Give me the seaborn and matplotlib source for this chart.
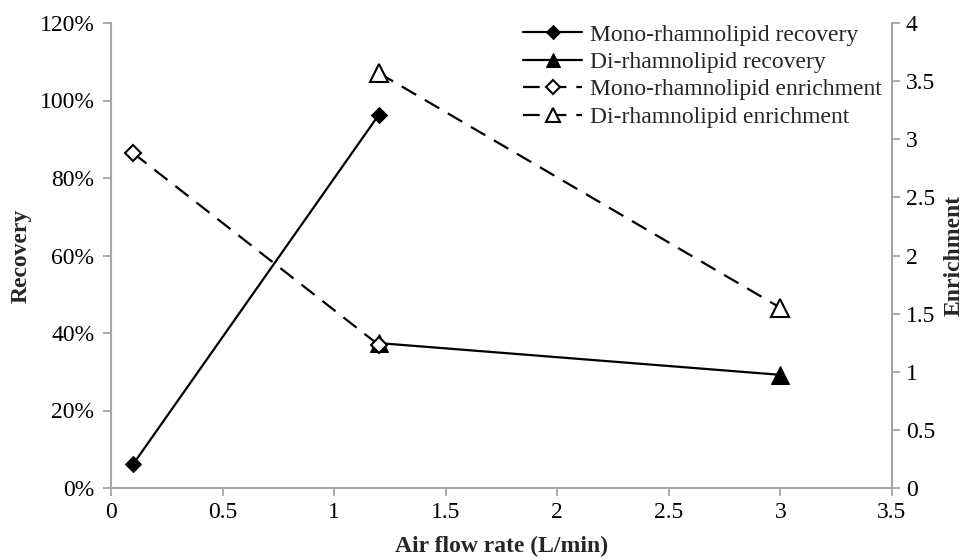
import matplotlib
matplotlib.use("Agg")
import matplotlib.pyplot as plt
import seaborn as sns
import pandas as pd
from matplotlib.ticker import FuncFormatter, MultipleLocator

# ---- data ----
mono_rec_x = [0.1, 1.2]
mono_rec_y = [6.2, 96.3]          # %
di_rec_x = [1.2, 3.0]
di_rec_y = [37.4, 29.2]           # %
mono_enr_x = [0.1, 1.2]
mono_enr_y = [2.88, 1.23]
di_enr_x = [1.2, 3.0]
di_enr_y = [3.57, 1.55]

labels = ["Mono-rhamnolipid recovery", "Di-rhamnolipid recovery",
          "Mono-rhamnolipid enrichment", "Di-rhamnolipid enrichment"]

sns.set_style("white")
plt.rcParams["font.family"] = ["Liberation Serif", "DejaVu Serif"]

FS = 17
GRAY = "#A6A6A6"

fig = plt.figure(figsize=(9.65, 5.6), dpi=100)
ax = fig.add_axes([111 / 965, 1 - 488 / 560, (892 - 111) / 965, (488 - 23) / 560])
ax2 = ax.twinx()

dash = (0, (7.5, 4.5))
sns.lineplot(x=mono_rec_x, y=mono_rec_y, ax=ax, color="black", lw=1.6,
             marker="D", markersize=8.6, markeredgecolor="black", label=labels[0], legend=False)
sns.lineplot(x=di_rec_x, y=di_rec_y, ax=ax, color="black", lw=1.6,
             marker="^", markersize=12.5, markeredgecolor="black", label=labels[1], legend=False)
sns.lineplot(x=mono_enr_x, y=mono_enr_y, ax=ax2, color="black", lw=1.6, linestyle=dash,
             marker="D", markersize=8.6, markerfacecolor="white", markeredgecolor="black",
             markeredgewidth=1.5, label=labels[2], legend=False)
sns.lineplot(x=di_enr_x, y=di_enr_y, ax=ax2, color="black", lw=1.6, linestyle=dash,
             marker="^", markersize=12.5, markerfacecolor="white", markeredgecolor="black",
             markeredgewidth=1.5, label=labels[3], legend=False)

ax.set_xlim(0, 3.5)
ax.set_ylim(0, 120)
ax2.set_ylim(0, 4)
ax.xaxis.set_major_locator(MultipleLocator(0.5))
ax.yaxis.set_major_locator(MultipleLocator(20))
ax2.yaxis.set_major_locator(MultipleLocator(0.5))
ax.xaxis.set_major_formatter(FuncFormatter(lambda v, p: f"{v:g}"))
ax.yaxis.set_major_formatter(FuncFormatter(lambda v, p: f"{v:.0f}%"))
ax2.yaxis.set_major_formatter(FuncFormatter(lambda v, p: f"{v:g}"))

for a in (ax, ax2):
    for s in a.spines.values():
        s.set_color(GRAY)
        s.set_linewidth(1.5)
    a.spines["top"].set_visible(False)
    a.tick_params(colors=GRAY, labelcolor="black", labelsize=FS, length=6, width=1.3,
                  direction="out", pad=6)
ax.spines["right"].set_visible(False)
ax2.spines["left"].set_visible(False)
ax2.spines["bottom"].set_visible(False)
ax.tick_params(axis="y", left=True)
ax.tick_params(axis="x", bottom=True, pad=4)
ax2.tick_params(axis="y", right=True, pad=4)

ax.set_xlabel("Air flow rate (L/min)", fontsize=FS, fontweight="bold", labelpad=9)
ax.set_ylabel("Recovery", fontsize=FS, fontweight="bold", labelpad=6)
ax2.set_ylabel("Enrichment", fontsize=FS, fontweight="bold")
ax2.yaxis.set_label_coords((954 - 111) / 781, 0.5)
ax2.yaxis.label.set_va("center")

h1, l1 = ax.get_legend_handles_labels()
h2, l2 = ax2.get_legend_handles_labels()
leg = ax2.legend(h1 + h2, l1 + l2, loc="upper left",
                 bbox_to_anchor=(523 / 965, 1 - 24 / 560), bbox_transform=fig.transFigure,
                 frameon=False, fontsize=FS, handlelength=2.5, handletextpad=0.35,
                 labelspacing=0.25, borderpad=0, borderaxespad=0, markerscale=0.8)

fig.savefig("out.png", dpi=100)
